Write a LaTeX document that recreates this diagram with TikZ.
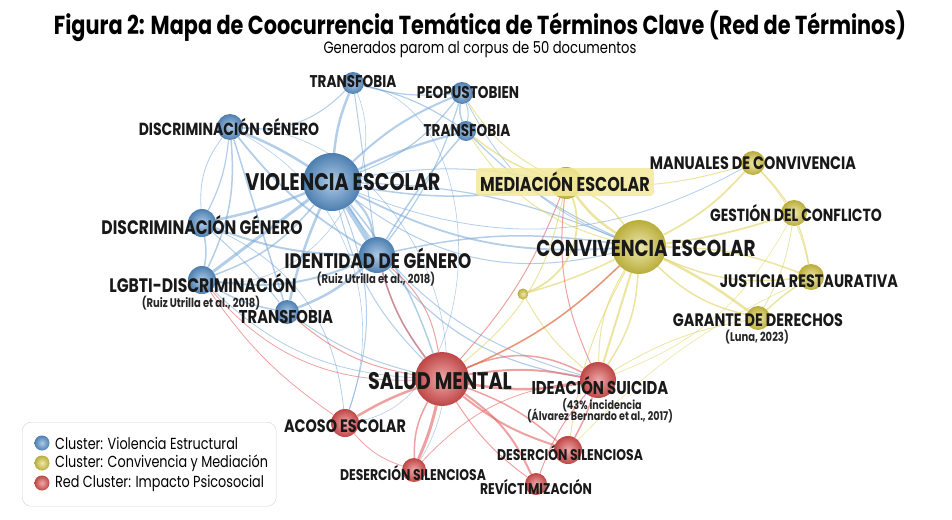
\documentclass[tikz,border=0pt]{standalone}
\usepackage{fontspec}
\setmainfont{Poppins}[FakeStretch=0.8]
\usetikzlibrary{backgrounds}

\definecolor{vblue}{HTML}{5B95CF}
\definecolor{cyellow}{HTML}{D9CB45}
\definecolor{sred}{HTML}{E05252}
\definecolor{medfill}{HTML}{F3E99A}

\tikzset{
    ball/.style={circle, inner sep=0pt, minimum size=#1},
    bluenode/.style={ball=#1, inner color=vblue!50!white, outer color=vblue!85!black},
    yellownode/.style={ball=#1, inner color=cyellow!45!white, outer color=cyellow!85!black},
    rednode/.style={ball=#1, inner color=sred!50!white, outer color=sred!85!black},
    term/.style={font=\bfseries\fontsize{#1}{#1}\selectfont, inner sep=0pt, text=black!90},
    cite/.style={font=\bfseries\fontsize{#1}{#1}\selectfont, inner sep=0pt, text=black!85,
        text height=8pt, text depth=2pt},
    bluelink/.style={draw=vblue!85!white, draw opacity=0.55},
    yellowlink/.style={draw=cyellow!85!white, draw opacity=0.6},
    redlink/.style={draw=sred!90!white, draw opacity=0.6},
    legtext/.style={font=\fontsize{16}{16}\selectfont, inner sep=0pt, anchor=west}
}

\begin{document}
\begin{tikzpicture}[x=1pt, y=-1pt]
        \useasboundingbox (0,0) rectangle (952,519);

        \node[font=\bfseries\fontsize{26}{26}\selectfont, inner sep=0pt] (title) at (480,26) {Figura 2: Mapa de Coocurrencia Temática de Términos Clave (Red de Términos)};
        \node[font=\fontsize{16.4}{16.4}\selectfont, inner sep=0pt] (subtitle) at (480,50) {Generados parom al corpus de 50 documentos};

        % violencia estructural
        \node[bluenode=58] (ve) at (332,182) {};
        \node[bluenode=22] (t1) at (353,83) {};
        \node[bluenode=22] (p) at (462,93) {};
        \node[bluenode=20] (t2) at (466,131) {};
        \node[bluenode=26] (dg1) at (230,127) {};
        \node[bluenode=28] (dg2) at (202,223) {};
        \node[bluenode=28] (lg) at (202,280) {};
        \node[bluenode=24] (t3) at (287,312) {};
        \node[bluenode=36] (ig) at (377,255) {};

        % convivencia y mediacion
        \node[yellownode=54] (ce) at (639,247) {};
        \node[yellownode=32] (me) at (566,183) {};
        \node[yellownode=24] (mc) at (753,163) {};
        \node[yellownode=26] (gc) at (794,213) {};
        \node[yellownode=26] (jr) at (811,277) {};
        \node[yellownode=24] (gd) at (758,318) {};
        \node[yellownode=11] (ydot) at (523,294) {};

        % impacto psicosocial
        \node[rednode=54] (sm) at (442,379) {};
        \node[rednode=36] (is) at (598,380) {};
        \node[rednode=28] (ae) at (345,423) {};
        \node[rednode=24] (ds1) at (414,470) {};
        \node[rednode=28] (ds2) at (568,450) {};
        \node[rednode=22] (rev) at (536,484) {};

        \begin{scope}[on background layer]
        \foreach \a/\b/\w/\bend in {ve/t1/2.5/8, ve/p/2/10, ve/p/1.2/-15, ve/t2/2.2/5, ve/dg1/2.5/-5,
            ve/dg2/2.5/5, ve/lg/3/0, ve/lg/1.5/15, ve/t3/2.5/-5, ve/ig/5/0, ve/ig/2/20, ve/me/1.5/-10,
            ve/me/1/10, ve/ce/1.8/-15, ve/ce/1.2/10, ve/ce/1/-25, ve/sm/1.5/10, ve/sm/1/-15, ve/ae/1/20,
            ve/is/1/-20, ve/mc/0.8/-25, dg1/dg2/1.2/10, dg1/dg2/0.8/-20, dg1/lg/1.5/15, dg1/t3/1.5/0,
            dg1/ig/1.8/-10, dg1/t1/1/-25, dg2/lg/1.5/10, dg2/ig/2/-10, dg2/t3/1/5, lg/t3/1.5/-10,
            lg/ig/2/-15, t3/ig/2.5/-10, t1/p/1.2/-10, t1/t2/1.2/10, p/t2/1.5/-15, p/t2/1/15, t1/ig/1/0,
            p/ig/1.2/10, t2/ig/1.5/-5, t2/ce/1.2/-10, p/ce/0.8/-20, ig/sm/1.5/-10, ig/is/1.2/-20,
            ig/ce/1.5/10, lg/sm/0.8/-20, t3/sm/1/-10, t1/ae/0.6/80, dg1/ds1/0.6/60, t1/lg/0.6/60,
            dg2/ae/0.8/30, dg1/ae/0.6/40}
            \draw[bluelink, line width=\w pt] (\a) to[bend left=\bend] (\b);
        \foreach \a/\b/\w/\bend in {ce/me/2.5/10, ce/me/1.5/-15, ce/mc/1.8/-10, ce/gc/1.8/-5, ce/jr/1.5/10,
            ce/jr/1.5/-15, ce/gd/2.5/5, ce/gd/1.5/-15, ce/ydot/1.5/5, me/ydot/1.8/45, me/mc/1/-10,
            mc/gc/1.2/5, gc/jr/1.2/5, mc/jr/0.8/15, jr/gd/1.5/-5, gc/gd/0.8/10, ce/is/2/0, ce/is/1.5/15,
            ce/is/1/-15, ce/sm/1.5/10, ce/ds2/1/-10, me/t2/1.5/10, me/p/1/15, ce/t2/1/20, ydot/is/1/-10,
            me/sm/1/20, gd/is/0.8/-10, jr/ds2/0.6/-10, gc/is/0.6/20}
            \draw[yellowlink, line width=\w pt] (\a) to[bend left=\bend] (\b);
        \foreach \a/\b/\w/\bend in {sm/is/2.5/-10, sm/is/2/10, sm/is/1.5/25, sm/ae/2.5/-5, sm/ds1/3/5,
            sm/ds1/1.5/-15, sm/ds2/2/-10, sm/ds2/1.5/10, sm/rev/2/15, sm/rev/1/-10, sm/ig/1.5/10,
            sm/ig/1/-20, sm/lg/0.8/25, sm/t3/1/15, sm/ce/1.5/-10, is/ds2/1.5/5, is/rev/1/-10, is/me/1/15,
            ae/ds1/0.8/-15, ae/lg/0.8/10, ds1/is/0.8/20, sm/me/1/-10}
            \draw[redlink, line width=\w pt] (\a) to[bend left=\bend] (\b);
        \end{scope}

        % labels
        \node[term=24] (ve-l) at (343,182) {VIOLENCIA ESCOLAR};
        \node[term=17] (t1-l) at (353,82) {TRANSFOBIA};
        \node[term=17] (p-l) at (468,93) {PEOPUSTOBIEN};
        \node[term=17] (t2-l) at (467,131) {TRANSFOBIA};
        \node[term=17.5] (dg1-l) at (229,127) {DISCRIMINACIÓN GÉNERO};
        \node[term=19.5] (dg2-l) at (202,225) {DISCRIMINACIÓN GÉNERO};
        \node[term=19.5] (lg-l) at (203,283) {LGBTI-DISCRIMINACIÓN};
        \node[cite=12.5] (lg-c) at (201,304) {(Ruiz Utrilla et al., 2018)};
        \node[term=18.5] (t3-l) at (286,317) {TRANSFOBIA};
        \node[term=21] (ig-l) at (378,258) {IDENTIDAD DE GÉNERO};
        \node[cite=12.5] (ig-c) at (376,280) {(Ruiz Utrilla et al., 2018)};

        \node[term=23] (ce-l) at (646,248) {CONVIVENCIA ESCOLAR};
        \node[term=20, fill=medfill, fill opacity=0.85, text opacity=1, rounded corners=3pt,
              inner xsep=4pt, inner ysep=4pt] (me-l) at (565,182) {MEDIACIÓN ESCOLAR};
        \node[term=18] (mc-l) at (753,163) {MANUALES DE CONVIVENCIA};
        \node[term=17.5] (gc-l) at (796,213) {GESTIÓN DEL CONFLICTO};
        \node[term=18] (jr-l) at (809,281) {JUSTICIA RESTAURATIVA};
        \node[term=18] (gd-l) at (758,320) {GARANTE DE DERECHOS};
        \node[cite=12.5] (gd-c) at (757,338) {(Luna, 2023)};

        \node[term=24] (sm-l) at (440,381) {SALUD MENTAL};
        \node[term=18.5] (is-l) at (600,386) {IDEACIÓN SUICIDA};
        \node[cite=12] (is-c1) at (602,406) {(43\% incidencia};
        \node[cite=12] (is-c2) at (600,417) {(Álvarez Bernardo et al., 2017)};
        \node[term=18] (ae-l) at (345,426) {ACOSO ESCOLAR};
        \node[term=15.5] (ds1-l) at (413,473) {DESERCIÓN SILENCIOSA};
        \node[term=15.5] (ds2-l) at (570,453) {DESERCIÓN SILENCIOSA};
        \node[term=15.5] (rev-l) at (536,487) {REVÍCTIMIZACIÓN};

        % legend
        \node[draw=gray!35, fill=white, rounded corners=9pt, minimum width=254, minimum height=84,
              anchor=north west, inner sep=0pt] (legend) at (22,422) {};
        \node[bluenode=15] (leg-b) at (42,443) {};
        \node[yellownode=15] (leg-y) at (42,463) {};
        \node[rednode=15] (leg-r) at (42,483) {};
        \node[legtext] (leg-bt) at (55,443) {Cluster: Violencia Estructural};
        \node[legtext] (leg-yt) at (55,463) {Cluster: Convivencia y Mediación};
        \node[legtext] (leg-rt) at (55,483) {Red Cluster: Impacto Psicosocial};
    \end{tikzpicture}
\end{document}
